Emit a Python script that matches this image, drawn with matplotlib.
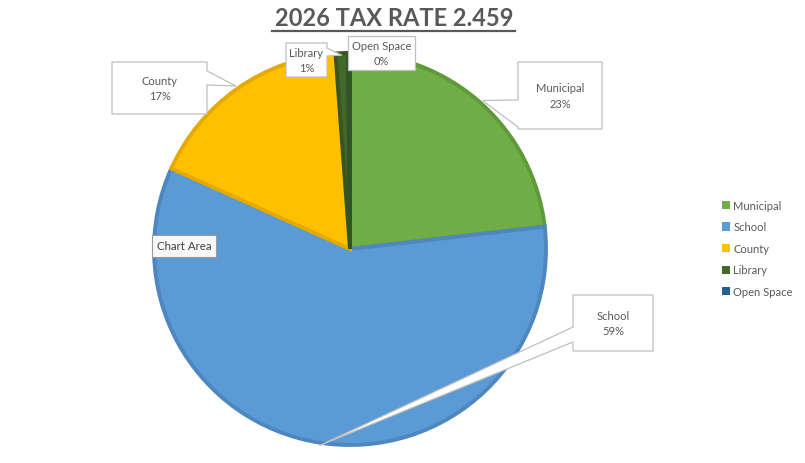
import matplotlib
matplotlib.use("Agg")
import matplotlib.pyplot as plt
from matplotlib.patches import Polygon, Patch
import numpy as np

# ---- data ----
categories = ["Municipal", "School", "County", "Library", "Open Space"]
values = [0.570, 1.440, 0.420, 0.025, 0.004]
pct_labels = ["23%", "59%", "17%", "1%", "0%"]
title_text = "2026 TAX RATE 2.459"

colors = ["#70AD47", "#5B9BD5", "#FFC000", "#43682B", "#255E91"]
edge_colors = ["#5F9A3A", "#4E87C0", "#E5AA00", "#375623", "#2F5527"]

plt.rcParams['font.family'] = ['Lato', 'DejaVu Sans']
TXT = "#595959"

W, H = 805, 464
fig = plt.figure(figsize=(W / 100, H / 100), dpi=100)

# pie axes: one data unit = one pixel, centre at pixel (350, 250)
CX, CY = 350, 250
ax = fig.add_axes([(CX - 200) / W, (H - (CY + 200)) / H, 400 / W, 400 / H])

R = 196
wedges, _ = ax.pie(values, colors=colors, startangle=90, counterclock=False,
                   radius=R, center=(0, 0), frame=False,
                   wedgeprops=dict(linewidth=2.8))
for w, ec in zip(wedges, edge_colors):
    w.set_edgecolor(ec)
ax.set_xlim(-200, 200)
ax.set_ylim(-200, 200)
ax.set_aspect('equal')
ax.axis('off')


def P(x, y):
    """image pixel -> data coordinates"""
    return (x - CX, CY - y)


total = sum(values)
cum = np.cumsum([0] + values[:-1])
mid_angles = [90 - 360 * (c + v / 2) / total for c, v in zip(cum, values)]


def target(i, r=199):
    a = np.deg2rad(mid_angles[i])
    return (r * np.cos(a), r * np.sin(a))


def callout(box, side=None, a1=None, a2=None, tgt=None):
    x0, y0, x1, y1 = box
    if side == 'left':
        pts = [P(x0, y0), P(x1, y0), P(x1, y1), P(x0, y1), P(x0, a2), tgt, P(x0, a1)]
    elif side == 'right':
        pts = [P(x0, y0), P(x1, y0), P(x1, a1), tgt, P(x1, a2), P(x1, y1), P(x0, y1)]
    else:
        pts = [P(x0, y0), P(x1, y0), P(x1, y1), P(x0, y1)]
    poly = Polygon(pts, closed=True, facecolor='white', edgecolor='#BFBFBF',
                   linewidth=0.9, zorder=5, clip_on=False)
    ax.add_patch(poly)


def label(box, i):
    x0, y0, x1, y1 = box
    cx, cy = P((x0 + x1) / 2, (y0 + y1) / 2)
    ax.text(cx, cy, f"{categories[i]}\n{pct_labels[i]}", ha='center', va='center',
            fontsize=8, color=TXT, zorder=6, linespacing=1.45, clip_on=False)


# Municipal
b = (518, 63, 602, 130)
callout(b, 'left', 101, 128, target(0))
label(b, 0)
# School
b = (573, 296, 653, 352)
callout(b, 'left', 328, 343, target(1))
label(b, 1)
# County
b = (112, 63, 207, 115)
callout(b, 'right', 72, 86, target(2))
label(b, 2)
# Library
b = (286, 44, 327, 78)
callout(b, 'right', 49, 57, target(3, 194))
label(b, 3)
# Open Space
b = (348, 37, 415, 71)
callout(b)
label(b, 4)

# "Chart Area" tooltip
ax.text(*P(184, 247), "Chart Area", ha='center', va='center', fontsize=8.3,
        color="#404040", zorder=7, clip_on=False,
        bbox=dict(boxstyle='square,pad=0.45', fc='#F8F8F8', ec='#9A9A9A', lw=0.8))

# title
fig.text(394 / W, 1 - 19 / H, title_text, ha='center', va='center',
         fontsize=17, fontweight='bold', color=TXT, family=['Lato', 'DejaVu Sans'])
fig.add_artist(plt.Line2D([272 / W, 515 / W], [1 - 32 / H, 1 - 32 / H],
                          color=TXT, linewidth=1.6, transform=fig.transFigure))

# legend
handles = [Patch(facecolor=c, edgecolor='none') for c in colors]
leg = fig.legend(handles, categories, loc='upper left',
                 bbox_to_anchor=(714 / W, 1 - 193 / H), frameon=False,
                 fontsize=8, handlelength=0.75, handleheight=0.75,
                 handletextpad=0.3, labelspacing=0.95, borderpad=0.2)
for t in leg.get_texts():
    t.set_color(TXT)

fig.savefig("out.png", dpi=100, facecolor='white')
